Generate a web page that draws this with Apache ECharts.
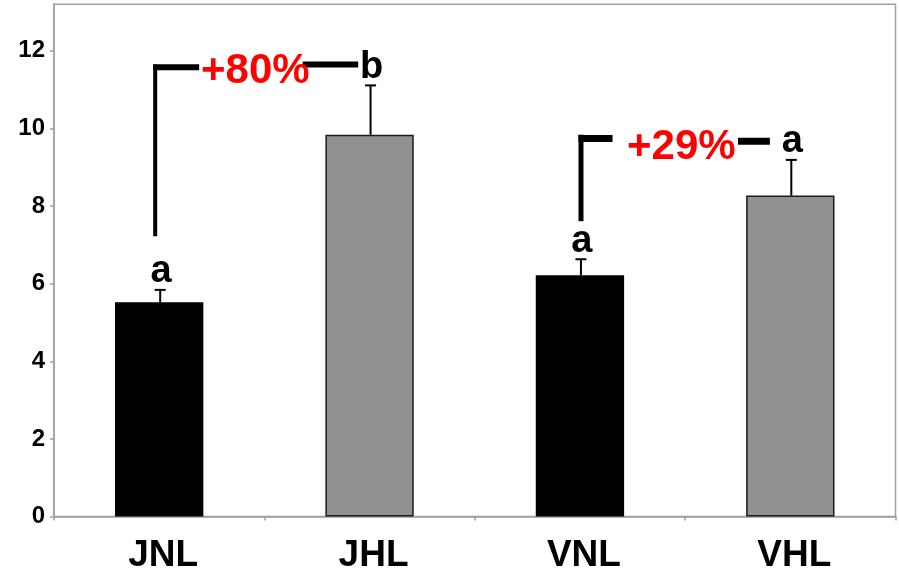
<!DOCTYPE html>
<html><head><meta charset="utf-8">
<script src="https://cdn.jsdelivr.net/npm/echarts@6/dist/echarts.min.js"></script>
<style>html,body{margin:0;padding:0;background:#fff}#c{width:899px;height:574px}</style>
</head><body><div id="c"></div>
<script>
const categories = ['JNL', 'JHL', 'VNL', 'VHL'];
const means = [5.52, 9.84, 6.22, 8.27];
const errTops = [5.84, 11.11, 6.63, 9.19];
const letters = ['a', 'b', 'a', 'a'];
const barColors = ['#000000', '#919191', '#000000', '#919191'];
const yTicks = [0, 2, 4, 6, 8, 10, 12];
const comparisons = [
  { from: 0, to: 1, text: '+80%' },
  { from: 2, to: 3, text: '+29%' }
];

// annotation layout (x as fraction of category band from the 'from' category centre, y in data units)
const bracketLayout = [
  { xv: -0.019, top: 11.65, bottom: 7.22, leftEnd: 0.19, hy: 11.58, textX: 0.457, textY: 11.47, rStart: 0.682, rEnd: 0.946, ry: 11.65, vW: 4, hW: 6 },
  { xv: 0.005, top: 9.84, bottom: 7.61, leftEnd: 0.155, hy: 9.74, textX: 0.482, textY: 9.51, rStart: 0.751, rEnd: 0.903, ry: 9.67, vW: 5, hW: 7 }
];

const FONT = "'Liberation Sans', Arial, Helvetica, sans-serif";
const chart = echarts.init(document.getElementById('c'));

const option = {
  animation: false,
  backgroundColor: '#fff',
  grid: { left: 54, right: 3.5, top: 4.3, bottom: 55.7, show: true, borderColor: '#a0a0a0', borderWidth: 1.5 },
  xAxis: {
    type: 'category',
    data: categories,
    axisLine: { lineStyle: { color: '#a0a0a0', width: 1.5 } },
    axisTick: { show: true, alignWithLabel: false, length: 4, lineStyle: { color: '#a0a0a0', width: 1.5 } },
    axisLabel: { color: '#000', fontFamily: FONT, fontWeight: 'bold', fontSize: 37, margin: 39, verticalAlign: 'middle', padding: [0, 0, 0, 8] }
  },
  yAxis: {
    type: 'value',
    min: 0, max: 13.2, interval: 2,
    splitLine: { show: false },
    axisLine: { show: true, lineStyle: { color: '#a0a0a0', width: 1.5 } },
    axisTick: { show: true, length: 4, lineStyle: { color: '#a0a0a0', width: 1.5 } },
    axisLabel: {
      color: '#000', fontFamily: FONT, fontWeight: 'bold', fontSize: 24, margin: 9,
      padding: [9, 0, 0, 0], showMaxLabel: false,
      formatter: v => (yTicks.indexOf(v) >= 0 ? String(v) : '')
    }
  },
  series: [
    {
      type: 'bar',
      barWidth: '42%',
      data: means.map((v, i) => ({
        value: v,
        itemStyle: {
          color: barColors[i],
          borderColor: barColors[i] === '#000000' ? '#000' : '#1a1a1a',
          borderWidth: barColors[i] === '#000000' ? 0 : 1.5
        }
      })),
      z: 2
    },
    {
      type: 'custom',
      z: 3,
      data: means.map((v, i) => [i, v, errTops[i]]),
      renderItem: (params, api) => {
        const i = api.value(0);
        const base = api.coord([i, api.value(1)]);
        const top = api.coord([i, api.value(2)]);
        const x = base[0] + 1;
        return {
          type: 'group',
          children: [
            { type: 'line', shape: { x1: x, y1: base[1], x2: x, y2: top[1] }, style: { stroke: '#000', lineWidth: 2 } },
            { type: 'line', shape: { x1: x - 5.5, y1: top[1], x2: x + 5.5, y2: top[1] }, style: { stroke: '#000', lineWidth: 2 } },
            { type: 'text', x: x + 1, y: top[1] - 18, style: { text: letters[i], fill: '#000', font: 'bold 38px ' + FONT, align: 'center', verticalAlign: 'middle' } }
          ]
        };
      }
    },
    {
      type: 'custom',
      z: 4,
      data: comparisons.map((c, k) => [c.from, k]),
      renderItem: (params, api) => {
        const k = api.value(1);
        const c = comparisons[k];
        const L = bracketLayout[k];
        const band = api.size([1, 0])[0];
        const cx = api.coord([c.from, 0])[0];
        const X = f => cx + f * band;
        const Y = v => api.coord([c.from, v])[1];
        return {
          type: 'group',
          children: [
            { type: 'line', shape: { x1: X(L.xv), y1: Y(L.top), x2: X(L.xv), y2: Y(L.bottom) }, style: { stroke: '#000', lineWidth: L.vW } },
            { type: 'line', shape: { x1: X(L.xv) - L.vW / 2, y1: Y(L.hy), x2: X(L.leftEnd), y2: Y(L.hy) }, style: { stroke: '#000', lineWidth: L.hW } },
            { type: 'line', shape: { x1: X(L.rStart), y1: Y(L.ry), x2: X(L.rEnd), y2: Y(L.ry) }, style: { stroke: '#000', lineWidth: L.hW } },
            { type: 'text', x: X(L.textX), y: Y(L.textY), style: { text: c.text, fill: '#ff0000', font: 'bold 42px ' + FONT, align: 'center', verticalAlign: 'middle' } }
          ]
        };
      }
    }
  ]
};
chart.setOption(option);
</script>
</body></html>
